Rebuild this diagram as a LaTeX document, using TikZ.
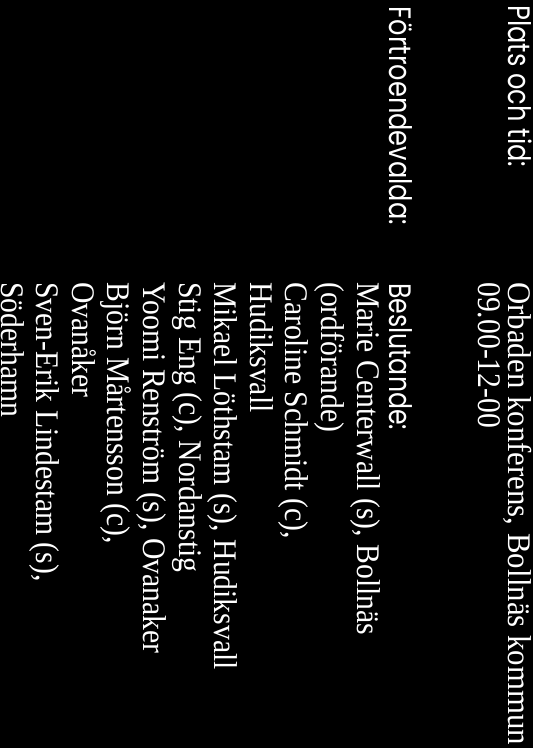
\documentclass[tikz,border=0pt]{standalone}
\usepackage{fontspec}
\usepackage{graphicx}
\setmainfont{Liberation Serif}
\newfontfamily\gothic{Poppins}
\newcommand\sq[1]{\scalebox{0.9}[1]{#1}}
\newcommand\fitw[2]{\resizebox{#1}{\height}{#2}}
\begin{document}
\begin{tikzpicture}[x=1pt,y=1pt,
  txt/.style={rotate=-90, anchor=base west, inner sep=0pt, text=white,
    font=\fontsize{33}{36}\selectfont},
  sans/.style={txt, font=\gothic\fontsize{31}{36}\selectfont}]
\fill[black] (0,0) rectangle (533,-748);
\useasboundingbox (0,0) rectangle (533,-748);
% header rows
\node[sans] (plats) at (508.5,-5) {\fitw{162pt}{Plats och tid:}};
\node[txt] (plats-v) at (508.5,-282) {\fitw{463pt}{Orbaden konferens, Bollnäs kommun}};
\node[txt] (tid) at (478,-282) {\sq{09.00-12-00}};
\node[sans] (fv) at (389,-6.7) {\fitw{218pt}{Förtroendevalda:}};
\node[sans] (besl) at (389,-283) {\fitw{147pt}{Beslutande:}};
% members
\node[txt] (l10) at (357,-282) {\sq{Marie Centerwall (s), Bollnäs}};
\node[txt] (l9) at (321.4,-282) {\sq{(ordförande)}};
\node[txt] (l8) at (285.8,-282) {\sq{Caroline Schmidt (c),}};
\node[txt] (l7) at (250.2,-282) {\sq{Hudiksvall}};
\node[txt] (l6) at (214.6,-282) {\sq{Mikael Löthstam (s), Hudiksvall}};
\node[txt] (l5) at (179,-282) {\sq{Stig Eng (c), Nordanstig}};
\node[txt] (l4) at (143.4,-282) {\sq{Yoomi Renström (s), Ovanaker}};
\node[txt] (l3) at (107.8,-282) {\sq{Björn Mårtensson (c),}};
\node[txt] (l2) at (72.2,-282) {\sq{Ovanåker}};
\node[txt] (l1) at (36.6,-282) {\sq{Sven-Erik Lindestam (s),}};
\node[txt] (l0) at (1.5,-282) {\sq{Söderhamn}};
\end{tikzpicture}
\end{document}
